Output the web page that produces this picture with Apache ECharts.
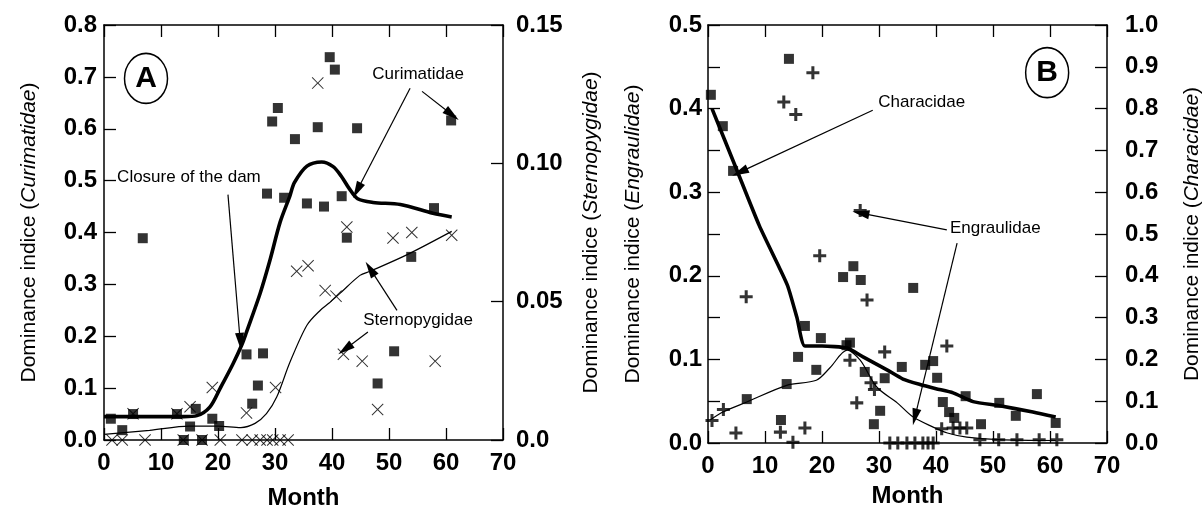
<!DOCTYPE html>
<html><head><meta charset="utf-8">
<script src="https://cdn.jsdelivr.net/npm/echarts@6/dist/echarts.min.js"></script>
<style>html,body{margin:0;padding:0;background:#fff}#c{width:1204px;height:515px}</style>
</head><body><div id="c"></div>
<script>
// ---------- DATA ----------
const monthTicks = [0, 10, 20, 30, 40, 50, 60, 70];
// Panel A: Curimatidae (squares, left axis 0-0.8)
const curimatidaePts = [[1.2,0.041],[3.2,0.019],[5.1,0.05],[6.8,0.389],[12.8,0.05],[14,0.0],[15.1,0.026],[16.1,0.06],[17.2,0.0],[19,0.041],[20.2,0.027],[25,0.165],[26,0.07],[27,0.105],[27.9,0.167],[28.6,0.475],[29.5,0.614],[30.5,0.64],[31.6,0.467],[33.5,0.58],[35.6,0.456],[37.5,0.603],[38.6,0.45],[39.6,0.738],[40.5,0.714],[41.7,0.47],[42.6,0.39],[44.4,0.601],[48,0.109],[50.9,0.171],[53.9,0.353],[57.9,0.447],[60.9,0.616]];
const curimatidaeCurve = [[0,0.045],[5,0.045],[10,0.045],[14,0.045],[16.3,0.047],[18.6,0.064],[20.4,0.10],[22.6,0.146],[24.2,0.184],[25,0.208],[27.4,0.283],[29.1,0.346],[30.9,0.42],[32.6,0.47],[33.4,0.496],[35.6,0.528],[38.2,0.536],[40.2,0.527],[41.6,0.509],[43,0.485],[44.5,0.465],[47.2,0.458],[52,0.454],[57.7,0.437],[61,0.43]];
// Panel A: Sternopygidae (crosses, right axis 0-0.15)
const sternopygidaePts = [[1.4,0],[3.2,0],[5.1,0.0095],[7.2,0],[12.8,0.0095],[13.9,0],[15.1,0.012],[17.2,0],[19,0.019],[20.4,0],[24.2,0],[25,0.0098],[26,0],[27.4,0],[28.6,0],[29.6,0],[30.1,0.019],[30.9,0],[32.3,0],[33.8,0.061],[35.8,0.063],[37.5,0.129],[38.8,0.054],[40.7,0.052],[42,0.031],[42.6,0.077],[45.3,0.0285],[48,0.011],[50.7,0.073],[54,0.075],[58.1,0.0285],[61,0.074]];
const sternopygidaeCurve = [[0,0.002],[8,0.0035],[15,0.005],[20,0.005],[24,0.0045],[26.5,0.006],[28.5,0.0095],[30.3,0.0155],[32.6,0.028],[35.6,0.0415],[38,0.047],[39.5,0.0495],[41.4,0.053],[44.9,0.0595],[46.7,0.061],[53.2,0.067],[61,0.0754]];
// Panel B: Characidae (squares, right axis 0-1.0)
const characidaePts = [[0.5,0.833],[2.6,0.758],[4.4,0.651],[6.8,0.105],[12.8,0.055],[13.8,0.141],[14.2,0.919],[15.8,0.206],[17,0.28],[19,0.175],[19.8,0.251],[23.7,0.397],[24.3,0.234],[24.9,0.24],[25.5,0.423],[26.8,0.39],[27.5,0.17],[29.1,0.045],[30.2,0.077],[31,0.155],[34,0.182],[36,0.371],[38.1,0.187],[39.5,0.196],[40.2,0.156],[41.2,0.098],[42.3,0.074],[43.2,0.06],[45.2,0.112],[47.9,0.045],[51.1,0.096],[54,0.065],[57.7,0.117],[61,0.048]];
const characidaeCurve = [[0.7,0.80],[5,0.655],[9,0.52],[12.5,0.42],[14,0.375],[15.6,0.30],[17,0.232],[20,0.232],[24.4,0.227],[27.2,0.206],[31.4,0.175],[34.2,0.153],[37.2,0.14],[40,0.13],[43,0.12],[46.5,0.099],[51.2,0.089],[57,0.074],[61,0.062]];
// Panel B: Engraulidae (plus, left axis 0-0.5)
const engraulidaePts = [[0.7,0.027],[2.7,0.04],[4.9,0.012],[6.7,0.175],[12.7,0.013],[13.3,0.408],[14.9,0.001],[15.4,0.393],[17,0.018],[18.4,0.443],[19.6,0.224],[24.9,0.099],[26.1,0.048],[26.7,0.278],[27.9,0.171],[28.6,0.072],[29.2,0.064],[31,0.109],[31.9,0],[33.3,0],[34.9,0],[36.3,0],[37.7,0],[38.6,0],[39.5,0],[41,0.017],[41.9,0.116],[43,0.018],[44.2,0.018],[45.4,0.018],[47.7,0.004],[51,0.004],[54.2,0.004],[58.1,0.004],[61.2,0.004]];
const engraulidaeCurve = [[0.4,0.0275],[2.6,0.037],[6.8,0.049],[13.8,0.069],[19,0.075],[21.4,0.09],[24.4,0.111],[26.7,0.099],[29.6,0.067],[33.2,0.048],[36,0.031],[39.5,0.019],[42,0.012],[45.4,0.007],[51,0.004],[61,0.003]];
// Annotations (data coordinates)
const annotA = [
  {text:'Closure of the dam', at:[14.9,0.507]},
  {text:'Curimatidae', at:[55.1,0.704]},
  {text:'Sternopygidae', at:[55.1,0.231]}
];
const arrowsA = [[[21.75,0.473],[23.9,0.19]],[[53.7,0.678],[44.4,0.481]],[[55.8,0.672],[61.05,0.627]],[[51.4,0.25],[46.7,0.33]],[[46.3,0.208],[42.3,0.175]]];
const annotB = [
  {text:'Characidae', at:[37.5,0.408]},
  {text:'Engraulidae', at:[50.4,0.257]}
];
const arrowsB = [[[28.9,0.398],[5.6,0.324]],[[41.9,0.255],[26.8,0.275]],[[43.7,0.239],[36.3,0.031]]];
const panelLabels = [{text:'A', at:[7.37,0.697]},{text:'B', at:[59.5,0.443]}];

// ---------- STYLE ----------
const FONT = '"Liberation Sans", Arial, sans-serif';
const tickLabel = {fontFamily: FONT, fontSize: 24, fontWeight: 'bold', color: '#000'};
const axisLine = {show: true, onZero: false, lineStyle: {color: '#000', width: 1.5}};
const axisTick = {show: true, inside: true, length: 12, lineStyle: {color: '#000', width: 1.3}};
const titleRich = {
  n: {fontFamily: FONT, fontSize: 21, color: '#000'},
  i: {fontFamily: FONT, fontSize: 21, color: '#000', fontStyle: 'italic'}
};
const CROSS = 'path://M0.6,0L5,4.4L9.4,0L10,0.6L5.6,5L10,9.4L9.4,10L5,5.6L0.6,10L0,9.4L4.4,5L0,0.6Z';
const PLUS = 'path://M4.6,0H7.4V4.6H12V7.4H7.4V12H4.6V7.4H0V4.6H4.6Z';
const ARROW = 'path://M5,0L10,20L0,20Z';

function xAxes(grid) {
  return [
    {gridIndex: grid, type: 'value', min: monthTicks[0], max: monthTicks[monthTicks.length-1], interval: 10,
     position: 'bottom', axisLine, axisTick, splitLine: {show: false},
     axisLabel: Object.assign({margin: 11}, tickLabel),
     name: 'Month', nameLocation: 'middle', nameGap: grid === 0 ? 46 : 41, nameTextStyle: tickLabel},
    {gridIndex: grid, type: 'value', min: 0, max: 70, interval: 10, position: 'top',
     axisLine, axisTick, splitLine: {show: false}, axisLabel: {show: false}}
  ];
}
function markTexts(list) {
  return list.map(a => ({coord: a.at, symbol: 'rect', symbolSize: 1,
    itemStyle: {color: 'rgba(0,0,0,0)'},
    label: {show: true, position: 'inside', formatter: a.text, color: '#000', fontFamily: FONT, fontSize: 17}}));
}
function markCircle(p) {
  return {coord: p.at, symbol: 'circle', symbolSize: [43, 50],
    itemStyle: {color: '#fff', borderColor: '#000', borderWidth: 1.6},
    label: {show: true, position: 'inside', formatter: p.text, color: '#000', fontFamily: FONT, fontSize: 30, fontWeight: 'bold'}};
}
function markArrows(list) {
  return {silent: true, animation: false, symbol: ['none', ARROW], symbolSize: [9, 17],
    lineStyle: {color: '#000', width: 1.2, type: 'solid'}, label: {show: false},
    emphasis: {disabled: true},
    data: list.map(l => [{coord: l[0]}, {coord: l[1]}])};
}

const chart = echarts.init(document.getElementById('c'), null, {renderer: 'canvas'});
chart.setOption({
  animation: false,
  backgroundColor: '#fff',
  grid: [
    {left: 104, top: 25, width: 399, height: 426},
    {left: 708, top: 25, width: 399, height: 418}
  ],
  xAxis: [...xAxes(0), ...xAxes(1)],
  yAxis: [
    {gridIndex: 0, type: 'value', min: 0, max: 0.8, interval: 0.1, position: 'left',
     axisLine, axisTick, splitLine: {show: false},
     axisLabel: Object.assign({margin: 7, formatter: v => v.toFixed(1)}, tickLabel),
     name: '{n|Dominance indice (}{i|Curimatidae}{n|)}', nameLocation: 'middle', nameRotate: 90, nameGap: 64,
     nameTextStyle: {rich: titleRich}},
    {gridIndex: 0, type: 'value', min: 0, max: 0.15, interval: 0.05, position: 'right',
     axisLine, axisTick, splitLine: {show: false},
     axisLabel: Object.assign({margin: 13, formatter: v => v === 0 ? '0.0' : v.toFixed(2)}, tickLabel),
     name: '{n|Dominance indice (}{i|Sternopygidae}{n|)}', nameLocation: 'middle', nameRotate: 90, nameGap: 78,
     nameTextStyle: {rich: titleRich}},
    {gridIndex: 1, type: 'value', min: 0, max: 0.5, interval: 0.05, position: 'left',
     axisLine, axisTick, splitLine: {show: false},
     axisLabel: Object.assign({margin: 6, formatter: v => (Math.round(v * 100) % 10 === 0) ? v.toFixed(1) : ''}, tickLabel),
     name: '{n|Dominance indice (}{i|Engraulidae}{n|)}', nameLocation: 'middle', nameRotate: 90, nameGap: 64,
     nameTextStyle: {rich: titleRich}},
    {gridIndex: 1, type: 'value', min: 0, max: 1.0, interval: 0.1, position: 'right',
     axisLine, axisTick, splitLine: {show: false},
     axisLabel: Object.assign({margin: 18, formatter: v => v.toFixed(1)}, tickLabel),
     name: '{n|Dominance indice (}{i|Characidae}{n|)}', nameLocation: 'middle', nameRotate: 90, nameGap: 75,
     nameTextStyle: {rich: titleRich}}
  ],
  series: [
    {type: 'line', name: 'Curimatidae trend', xAxisIndex: 0, yAxisIndex: 0, data: curimatidaeCurve,
     smooth: 0.3, showSymbol: false, lineStyle: {color: '#000', width: 3.6}, z: 2, silent: true},
    {type: 'line', name: 'Sternopygidae trend', xAxisIndex: 0, yAxisIndex: 1, data: sternopygidaeCurve,
     smooth: 0.3, showSymbol: false, lineStyle: {color: '#000', width: 1.2}, z: 2, silent: true},
    {type: 'scatter', name: 'Curimatidae', xAxisIndex: 0, yAxisIndex: 0, data: curimatidaePts,
     symbol: 'rect', symbolSize: 10, itemStyle: {color: '#000'}, clip: false, z: 3,
     markPoint: {silent: true, animation: false, data: [...markTexts(annotA), markCircle(panelLabels[0])]},
     markLine: markArrows(arrowsA)},
    {type: 'scatter', name: 'Sternopygidae', xAxisIndex: 0, yAxisIndex: 1, data: sternopygidaePts,
     symbol: CROSS, symbolSize: 12, itemStyle: {color: '#000'}, clip: false, z: 3},
    {type: 'line', name: 'Characidae trend', xAxisIndex: 2, yAxisIndex: 3, data: characidaeCurve,
     smooth: 0.2, showSymbol: false, lineStyle: {color: '#000', width: 3.6}, z: 2, silent: true},
    {type: 'line', name: 'Engraulidae trend', xAxisIndex: 2, yAxisIndex: 2, data: engraulidaeCurve,
     smooth: 0.3, showSymbol: false, lineStyle: {color: '#000', width: 1.2}, z: 2, silent: true},
    {type: 'scatter', name: 'Characidae', xAxisIndex: 2, yAxisIndex: 3, data: characidaePts,
     symbol: 'rect', symbolSize: 10, itemStyle: {color: '#000'}, clip: false, z: 3},
    {type: 'scatter', name: 'Engraulidae', xAxisIndex: 2, yAxisIndex: 2, data: engraulidaePts,
     symbol: PLUS, symbolSize: 13, itemStyle: {color: '#000'}, clip: false, z: 3,
     markPoint: {silent: true, animation: false, data: [...markTexts(annotB), markCircle(panelLabels[1])]},
     markLine: markArrows(arrowsB)}
  ]
});
</script></body></html>
